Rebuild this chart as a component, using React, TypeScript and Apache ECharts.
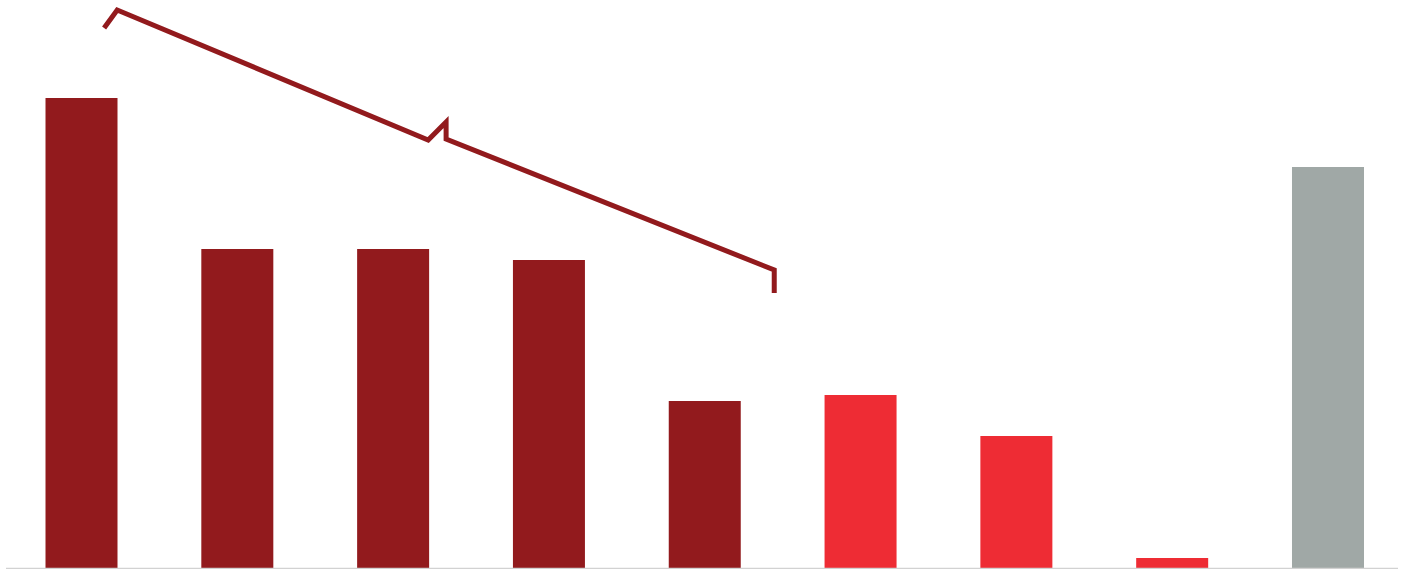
import React, { useEffect, useRef } from "react";
import * as echarts from "echarts";

const categories = ["A", "B", "C", "D", "E", "F", "G", "H", "I"];
const values = [47.0, 31.9, 31.9, 30.8, 16.7, 17.3, 13.2, 1.0, 40.1];
const barColors = ["#921a1d", "#921a1d", "#921a1d", "#921a1d", "#921a1d", "#ee2c34", "#ee2c34", "#ee2c34", "#a0a8a6"];
// bracket annotation in category units (x) and value units (y)
const bracketX = [0.645, 0.729, 2.725, 2.84, 2.84, 4.946, 4.946];
const bracketY = [54.0, 55.8, 42.8, 44.6, 42.9, 29.8, 27.5];

export default function App() {
  const ref = useRef<HTMLDivElement>(null);
  useEffect(() => {
    if (!ref.current) return;
    const chart = echarts.init(ref.current, null, { renderer: "svg" });
    chart.setOption({
      animation: false,
      grid: { left: 3.6, width: 1402.3, top: 0, height: 568 },
      xAxis: [
        {
          type: "category",
          data: categories,
          axisLine: { show: false },
          axisTick: { show: false },
          axisLabel: { show: false },
        },
        { type: "value", min: 0, max: 9, show: false },
      ],
      yAxis: { type: "value", min: 0, max: 56.8, show: false, splitLine: { show: false } },
      graphic: [
        {
          type: "line",
          shape: { x1: 6, y1: 568.5, x2: 1398, y2: 568.5 },
          style: { stroke: "#d2d2d2", lineWidth: 1.5 },
          z: 10,
        },
      ],
      series: [
        {
          type: "bar",
          barWidth: 72,
          data: values.map((v, i) => ({ value: v, itemStyle: { color: barColors[i] } })),
        },
        {
          type: "line",
          xAxisIndex: 1,
          showSymbol: false,
          symbol: "none",
          lineStyle: { color: "#921a1d", width: 5, join: "miter" },
          data: bracketX.map((x, i) => [x, bracketY[i]]),
        },
      ],
    });
    return () => chart.dispose();
  }, []);
  return <div ref={ref} style={{ position: "fixed", left: 0, top: 0, width: 1410, height: 569, background: "#fff" }} />;
}
